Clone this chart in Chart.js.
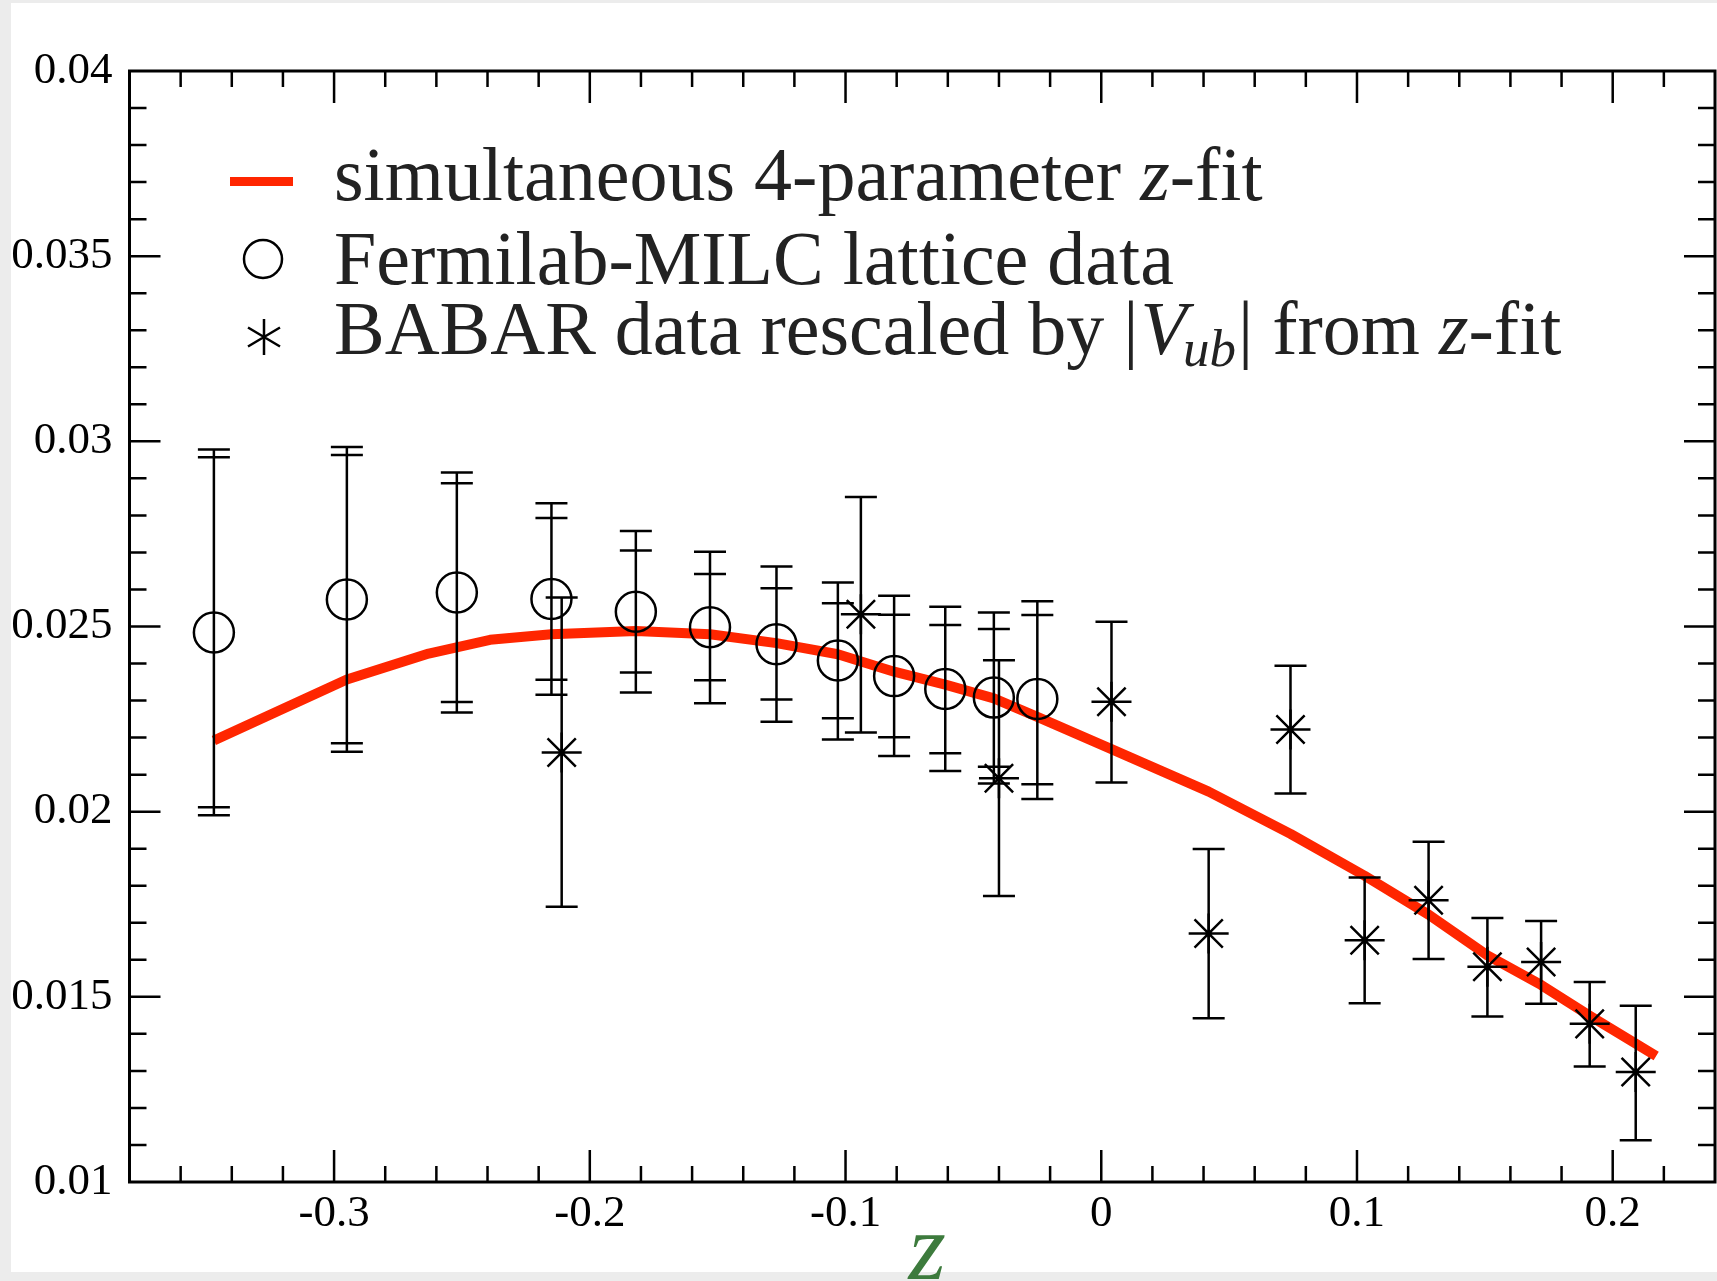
<!DOCTYPE html>
<html>
<head>
<meta charset="utf-8">
<title>simultaneous z-fit</title>
<script src="https://cdn.jsdelivr.net/npm/chart.js@4.4.0/dist/chart.umd.min.js"></script>
<style>
    html, body { margin: 0; padding: 0; background: #ececec; }
    #zfitChart { display: block; }
</style>
</head>
<body>
<canvas id="zfitChart" width="1717" height="1281"></canvas>
<script>
// Fermilab-MILC lattice data (inner caps = stat, outer caps = total)
const latticeZ = [-0.347, -0.295, -0.252, -0.215, -0.182, -0.153, -0.127, -0.103, -0.081, -0.061, -0.042, -0.025];
const latticeF = [0.02484, 0.02573, 0.02592, 0.02574, 0.02540, 0.02498, 0.02452, 0.02408, 0.02366, 0.02331, 0.02308, 0.02304];
const latticeStatHi = [0.02957, 0.02963, 0.02887, 0.02793, 0.02705, 0.02642, 0.02603, 0.02563, 0.02532, 0.02504, 0.02493, 0.02531];
const latticeStatLo = [0.02012, 0.02185, 0.02296, 0.02356, 0.02376, 0.02355, 0.02303, 0.02252, 0.02201, 0.02158, 0.02121, 0.02074];
const latticeTotHi = [0.02978, 0.02985, 0.02916, 0.02833, 0.02758, 0.02702, 0.02662, 0.02619, 0.02583, 0.02553, 0.02538, 0.02568];
const latticeTotLo = [0.01990, 0.02162, 0.02268, 0.02316, 0.02322, 0.02293, 0.02243, 0.02195, 0.02150, 0.02110, 0.02076, 0.02034];

// BABAR data rescaled by |Vub|
const babarZ = [-0.211, -0.094, -0.040, 0.004, 0.042, 0.074, 0.103, 0.128, 0.151, 0.172, 0.191, 0.209];
const babarF = [0.02160, 0.02533, 0.02090, 0.02297, 0.01671, 0.02222, 0.01653, 0.01761, 0.01581, 0.01594, 0.01427, 0.01297];
const babarHi = [0.02578, 0.02850, 0.02409, 0.02513, 0.01899, 0.02394, 0.01822, 0.01919, 0.01713, 0.01705, 0.01540, 0.01476];
const babarLo = [0.01743, 0.02214, 0.01772, 0.02079, 0.01442, 0.02049, 0.01483, 0.01602, 0.01447, 0.01481, 0.01312, 0.01113];

// simultaneous 4-parameter z-fit curve
const fitZ = [-0.347, -0.295, -0.263, -0.239, -0.215, -0.182, -0.153, -0.127, -0.103, -0.081, -0.061, -0.042, -0.025, 0.004, 0.042, 0.074, 0.103, 0.128, 0.151, 0.172, 0.191, 0.217];
const fitF = [0.02192, 0.02357, 0.02427, 0.02464, 0.02479, 0.02488, 0.02479, 0.02455, 0.02425, 0.02378, 0.02343, 0.02306, 0.02256, 0.02169, 0.02054, 0.01940, 0.01827, 0.01722, 0.01612, 0.01532, 0.01449, 0.01340];

// axes
const zMin = -0.38, zMax = 0.24, zStep = 0.02;
const fMin = 0.01, fMax = 0.04, fStep = 0.001;

const legendLabels = ['simultaneous 4-parameter ', 'Fermilab-MILC lattice data', 'BABAR data rescaled by '];

const SERIF = '"Liberation Serif", "Times New Roman", serif';
const FIT_RED = 'rgb(255, 38, 0)';

function isMajorZ(v) { return Math.round(v * 100) % 10 === 0; }
function isMajorF(v) { return Math.round(v * 1000) % 5 === 0; }

const pageBackground = {
    id: 'pageBackground',
    beforeDraw(chart) {
        const ctx = chart.ctx;
        ctx.save();
        ctx.fillStyle = '#ececec';
        ctx.fillRect(0, 0, chart.width, chart.height);
        ctx.fillStyle = '#ffffff';
        ctx.fillRect(11, 3, chart.width - 11, chart.height - 12);
        ctx.restore();
    }
};

const errorBars = {
    id: 'errorBars',
    afterDatasetsDraw(chart) {
        const { ctx, scales: { x, y } } = chart;
        const cap = 16;
        ctx.save();
        ctx.strokeStyle = '#000';
        ctx.lineWidth = 2.5;
        function bar(zv, lo, hi, caps) {
            const px = x.getPixelForValue(zv);
            ctx.beginPath();
            ctx.moveTo(px, y.getPixelForValue(lo));
            ctx.lineTo(px, y.getPixelForValue(hi));
            caps.forEach(v => {
                const py = y.getPixelForValue(v);
                ctx.moveTo(px - cap, py);
                ctx.lineTo(px + cap, py);
            });
            ctx.stroke();
        }
        latticeZ.forEach((zv, i) => {
            bar(zv, latticeTotLo[i], latticeTotHi[i],
                [latticeTotLo[i], latticeStatLo[i], latticeStatHi[i], latticeTotHi[i]]);
        });
        babarZ.forEach((zv, i) => {
            bar(zv, babarLo[i], babarHi[i], [babarLo[i], babarHi[i]]);
        });
        ctx.restore();
    }
};

const frameTicks = {
    id: 'frameTicks',
    afterDraw(chart) {
        const { ctx, chartArea: a, scales: { x, y } } = chart;
        ctx.save();
        ctx.strokeStyle = '#000';
        ctx.lineWidth = 2.5;
        ctx.beginPath();
        x.ticks.forEach(t => {
            const px = x.getPixelForValue(t.value);
            if (px <= a.left + 2 || px >= a.right - 2) return;
            const len = isMajorZ(t.value) ? 32 : 16;
            ctx.moveTo(px, a.bottom);
            ctx.lineTo(px, a.bottom - len);
            ctx.moveTo(px, a.top);
            ctx.lineTo(px, a.top + len);
        });
        y.ticks.forEach(t => {
            const py = y.getPixelForValue(t.value);
            if (py <= a.top + 2 || py >= a.bottom - 2) return;
            const len = isMajorF(t.value) ? 31 : 17;
            ctx.moveTo(a.left, py);
            ctx.lineTo(a.left + len, py);
            ctx.moveTo(a.right, py);
            ctx.lineTo(a.right - len, py);
        });
        ctx.stroke();
        ctx.lineWidth = 3;
        ctx.strokeRect(a.left, a.top, a.right - a.left, a.bottom - a.top);

        // axis title
        ctx.fillStyle = '#3d7b3d';
        ctx.font = 'italic 96px ' + SERIF;
        ctx.textAlign = 'center';
        ctx.textBaseline = 'alphabetic';
        ctx.fillText('z', (a.left + a.right) / 2 + 5, 1279);
        ctx.restore();
    }
};

const zfitLegend = {
    id: 'zfitLegend',
    afterDraw(chart) {
        const ctx = chart.ctx;
        const textX = 334;
        const base = [200, 284, 354];
        const normal = '76px ' + SERIF;
        const italic = 'italic 76px ' + SERIF;
        const sub = 'italic 53px ' + SERIF;
        ctx.save();
        ctx.textAlign = 'left';
        ctx.textBaseline = 'alphabetic';

        function run(parts, yBase) {
            let cx = textX;
            parts.forEach(p => {
                ctx.font = p.font;
                ctx.fillText(p.text, cx, yBase + (p.dy || 0));
                cx += ctx.measureText(p.text).width + (p.kern || 0);
            });
        }

        // symbols
        ctx.fillStyle = FIT_RED;
        ctx.fillRect(230, 177, 63, 9);
        ctx.strokeStyle = '#000';
        ctx.lineWidth = 2.5;
        ctx.beginPath();
        ctx.arc(263, 259, 19, 0, Math.PI * 2);
        ctx.stroke();
        ctx.beginPath();
        const sx = 264, sy = 337;
        ctx.moveTo(sx, sy - 18); ctx.lineTo(sx, sy + 18);
        ctx.moveTo(sx - 16, sy - 9.5); ctx.lineTo(sx + 16, sy + 9.5);
        ctx.moveTo(sx - 16, sy + 9.5); ctx.lineTo(sx + 16, sy - 9.5);
        ctx.stroke();

        ctx.fillStyle = '#222';
        run([
            { text: legendLabels[0], font: normal },
            { text: 'z', font: italic },
            { text: '-fit', font: normal }
        ], base[0]);
        run([{ text: legendLabels[1], font: normal }], base[1]);
        run([
            { text: legendLabels[2], font: normal },
            { text: '|', font: normal, kern: 2 },
            { text: 'V', font: italic, kern: -4 },
            { text: 'ub', font: sub, dy: 12, kern: 2 },
            { text: '| from ', font: normal },
            { text: 'z', font: italic },
            { text: '-fit', font: normal }
        ], base[2]);
        ctx.restore();
    }
};

const ctx = document.getElementById('zfitChart').getContext('2d');
new Chart(ctx, {
    type: 'scatter',
    data: {
        datasets: [
            {
                label: 'Fermilab-MILC lattice data',
                data: latticeZ.map((zv, i) => ({ x: zv, y: latticeF[i] })),
                pointStyle: 'circle',
                pointRadius: 20,
                pointBorderWidth: 2.5,
                pointBorderColor: '#000',
                pointBackgroundColor: 'rgba(0,0,0,0)',
                showLine: false
            },
            {
                label: 'BABAR data rescaled by |Vub| from z-fit',
                data: babarZ.map((zv, i) => ({ x: zv, y: babarF[i] })),
                pointStyle: 'star',
                pointRadius: 20,
                pointBorderWidth: 2.5,
                pointBorderColor: '#000',
                pointBackgroundColor: 'rgba(0,0,0,0)',
                showLine: false
            },
            {
                label: 'simultaneous 4-parameter z-fit',
                data: fitZ.map((zv, i) => ({ x: zv, y: fitF[i] })),
                showLine: true,
                borderColor: FIT_RED,
                borderWidth: 10,
                borderJoinStyle: 'round',
                pointRadius: 0,
                tension: 0
            }
        ]
    },
    options: {
        responsive: false,
        animation: false,
        events: [],
        layout: {
            autoPadding: false,
            padding: { top: 71, right: 2, bottom: 0, left: 0 }
        },
        plugins: {
            legend: { display: false },
            tooltip: { enabled: false }
        },
        scales: {
            x: {
                type: 'linear',
                min: zMin,
                max: zMax,
                grid: { display: false, drawTicks: false },
                border: { display: false },
                afterFit: scale => {
                    scale.height = 99;
                    scale.paddingLeft = 0;
                    scale.paddingRight = 0;
                },
                ticks: {
                    stepSize: zStep,
                    autoSkip: false,
                    maxRotation: 0,
                    padding: 5,
                    color: '#000',
                    font: { family: SERIF, size: 45 },
                    callback: v => isMajorZ(v) ? String(Math.round(v * 100) / 100) : ''
                }
            },
            y: {
                type: 'linear',
                min: fMin,
                max: fMax,
                grid: { display: false, drawTicks: false },
                border: { display: false },
                afterFit: scale => {
                    scale.width = 129.5;
                    scale.paddingTop = 0;
                    scale.paddingBottom = 0;
                },
                ticks: {
                    stepSize: fStep,
                    autoSkip: false,
                    padding: 17,
                    color: '#000',
                    font: { family: SERIF, size: 45 },
                    callback: v => isMajorF(v) ? String(Math.round(v * 1000) / 1000) : ''
                }
            }
        }
    },
    plugins: [pageBackground, errorBars, frameTicks, zfitLegend]
});
</script>
</body>
</html>
